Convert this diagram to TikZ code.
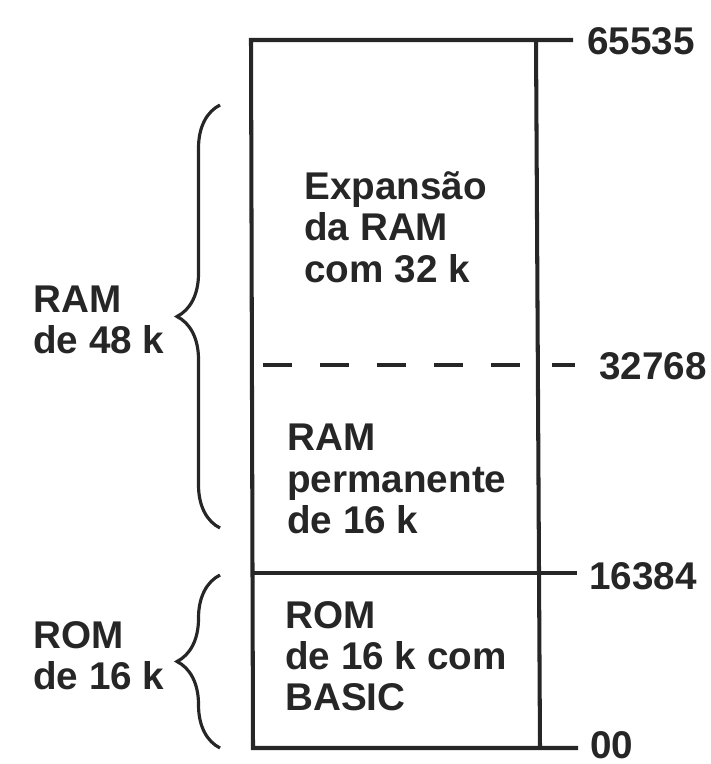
\documentclass[tikz,border=0pt]{standalone}
\usepackage{fontspec}
\setmainfont{Liberation Sans}
\usetikzlibrary{decorations.pathreplacing}

\begin{document}
\begin{tikzpicture}[
    x=0.02cm, y=-0.02cm,
    ink/.style={draw=black!85, line width=2.3pt},
    txt/.style={
        anchor=west, inner sep=0pt, align=left,
        text=black!85,
        font=\bfseries\fontsize{22}{23.5}\selectfont
    },
    curly/.style={draw=black!85, line width=1.8pt, decorate,
        decoration={brace, amplitude=0.86cm}}
]
\useasboundingbox (0,0) rectangle (710,764);

% corners of the memory map
\coordinate (tl) at (251,40);
\coordinate (tr) at (536,40);
\coordinate (bl) at (253,748);
\coordinate (br) at (540,748);
\coordinate (ml) at (253,573);
\coordinate (mr) at (539,573);
\coordinate (dl) at (263,365);
\coordinate (dr) at (522,365);

% address labels
\node[txt] (a65535) at (587,41) {65535};
\node[txt] (a32768) at (599,366) {32768};
\node[txt] (a16384) at (589,576) {16384};
\node[txt] (a00) at (590,745) {00};

\draw[ink] (a65535.west) ++(-14,-1) -- (tl) -- (bl) -- (br) -- ++(38,0);
\draw[ink] (tr) -- (br);
\draw[ink] (ml) -- (mr) -- ++(38,0);
\draw[ink, dash pattern=on 0.58cm off 0.56cm] (dl) -- (dr);
\draw[ink] (552,365) coordinate (t1) -- (575,365) coordinate (t2);

% contents
\node[txt] (exp) at (304,227) {Expansão\\da RAM\\com 32 k};
\node[txt] (perm) at (287,479) {RAM\\permanente\\de 16 k};
\node[txt] (rom) at (285,656) {ROM\\de 16 k com\\BASIC};

% braces
\draw[curly] (220,528) -- (220,105) coordinate[pos=0.5] (ramtip);
\draw[curly] (220,748) -- (220,575) coordinate[pos=0.5] (romtip);
\node[txt] (ram48) at (33,320) {RAM\\de 48 k};
\node[txt] (rom16) at (33,656) {ROM\\de 16 k};
\end{tikzpicture}
\end{document}
